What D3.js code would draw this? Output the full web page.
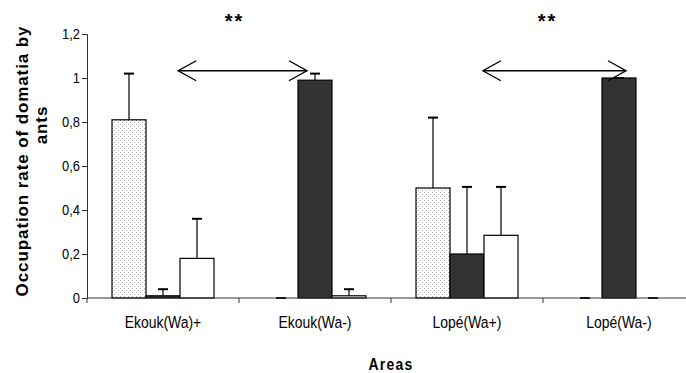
<!DOCTYPE html>
<html lang="en">
<head>
<meta charset="utf-8">
<script src="https://d3js.org/d3.v7.min.js"></script>
<style>
  body { margin: 0; background: #fff; }
  svg text { font-family: "Liberation Sans", Arial, sans-serif; fill: #000; }
</style>
</head>
<body>
<script>
  // categories and series
  const areas = ["Ekouk(Wa)+", "Ekouk(Wa-)", "Lopé(Wa+)", "Lopé(Wa-)"];
  const seriesNames = ["dotted", "dark", "white"];
  const dottedVals = [0.81, 0, 0.5, 0];
  const dottedErr = [0.21, 0, 0.32, 0];
  const darkVals = [0.01, 0.99, 0.2, 1.0];
  const darkErr = [0.03, 0.03, 0.305, 0];
  const whiteVals = [0.18, 0.01, 0.285, 0];
  const whiteErr = [0.18, 0.03, 0.22, 0];
  const yTicks = [0, 0.2, 0.4, 0.6, 0.8, 1, 1.2];
  // significance arrows, in category units along the x axis
  const arrows = [{ from: 0.6, to: 1.447, y: 1.033, star: 0.97 },
                  { from: 2.605, to: 3.546, y: 1.033, star: 3.03 }];

  const width = 686, height = 373;
  const margin = { left: 87, top: 34, bottom: 75 };
  const y0 = height - margin.bottom; // 298
  const squeeze = 0.82; // the original text is drawn condensed

  const svg = d3.select("body").append("svg")
    .attr("width", width).attr("height", height);

  const defs = svg.append("defs");
  const pat = defs.append("pattern").attr("id", "dots")
    .attr("patternUnits", "userSpaceOnUse").attr("width", 4).attr("height", 4);
  pat.append("rect").attr("width", 4).attr("height", 4).attr("fill", "#fff");
  pat.append("rect").attr("x", 0).attr("y", 0).attr("width", 1).attr("height", 1).attr("fill", "#b4b4b4");
  pat.append("rect").attr("x", 2).attr("y", 2).attr("width", 1).attr("height", 1).attr("fill", "#b4b4b4");

  const fills = { dotted: "url(#dots)", dark: "#333333", white: "#ffffff" };

  // axis runs past the right edge, one category step = 152px
  const x = d3.scaleBand().domain(areas).range([margin.left, margin.left + 4 * 152])
    .paddingInner(50 / 152).paddingOuter(25 / 152);
  const xAxisBand = d3.scaleBand().domain(areas).range([margin.left, margin.left + 4 * 152]).padding(0);
  const xs = d3.scaleBand().domain(seriesNames).range([0, x.bandwidth()]);
  const xu = d3.scaleLinear().domain([0, 4]).range([margin.left, margin.left + 4 * 152]);
  const y = d3.scaleLinear().domain([0, 1.2]).range([y0, margin.top]);

  const rows = areas.map((a, i) => ({
    area: a,
    bars: [
      { s: "dotted", v: dottedVals[i], e: dottedErr[i] },
      { s: "dark", v: darkVals[i], e: darkErr[i] },
      { s: "white", v: whiteVals[i], e: whiteErr[i] }
    ]
  }));

  // y axis
  const yAxis = svg.append("g").attr("transform", `translate(${margin.left},0)`)
    .call(d3.axisLeft(y).tickValues(yTicks).tickSize(5).tickPadding(0)
      .tickFormat(d => String(d).replace(".", ",")));
  yAxis.select(".domain").attr("stroke", "#333");
  yAxis.selectAll(".tick line").attr("stroke", "#333");
  yAxis.selectAll(".tick text")
    .attr("x", null)
    .attr("transform", "translate(-7,0) scale(0.86,1)")
    .style("font-size", "15px").attr("fill", "#000");

  // bars
  const grp = svg.selectAll("g.grp").data(rows).enter().append("g")
    .attr("class", "grp").attr("transform", d => `translate(${x(d.area)},0)`);

  grp.selectAll("rect").data(d => d.bars).enter().append("rect")
    .attr("x", d => xs(d.s))
    .attr("y", d => y(d.v))
    .attr("width", xs.bandwidth())
    .attr("height", d => y0 - y(d.v))
    .attr("fill", d => fills[d.s])
    .attr("stroke", d => d.v > 0 ? "#000" : "none")
    .attr("stroke-width", 1.2);

  // error bars
  const eb = grp.selectAll("g.eb").data(d => d.bars).enter().append("g").attr("class", "eb");
  eb.append("line")
    .attr("x1", d => xs(d.s) + xs.bandwidth() / 2).attr("x2", d => xs(d.s) + xs.bandwidth() / 2)
    .attr("y1", d => y(d.v)).attr("y2", d => y(d.v + d.e))
    .attr("stroke", "#000").attr("stroke-width", 1.2);
  eb.append("line")
    .attr("x1", d => xs(d.s) + xs.bandwidth() / 2 - 5).attr("x2", d => xs(d.s) + xs.bandwidth() / 2 + 5)
    .attr("y1", d => y(d.v + d.e)).attr("y2", d => y(d.v + d.e))
    .attr("stroke", "#000").attr("stroke-width", 2);

  // x axis
  const xg = svg.append("g");
  xg.append("line").attr("x1", xu(0)).attr("x2", xu(4)).attr("y1", y0).attr("y2", y0)
    .attr("stroke", "#333").attr("stroke-width", 1);
  xg.selectAll("line.tk").data(d3.range(5)).enter().append("line").attr("class", "tk")
    .attr("x1", d => xu(d)).attr("x2", d => xu(d)).attr("y1", y0).attr("y2", y0 + 5)
    .attr("stroke", "#333");
  xg.selectAll("text").data(areas).enter().append("text")
    .attr("transform", d => `translate(${xAxisBand(d) + xAxisBand.bandwidth() / 2},328) scale(${squeeze},1)`)
    .attr("text-anchor", "middle")
    .style("font-size", "17px")
    .text(d => d);

  svg.append("text")
    .attr("transform", `translate(${xu(2)},370) scale(${squeeze},1)`)
    .attr("text-anchor", "middle")
    .style("font-size", "17px").style("font-weight", "bold").style("letter-spacing", "1.5px")
    .text("Areas");

  // y title
  svg.append("text")
    .attr("transform", "translate(28,161) rotate(-90)")
    .attr("text-anchor", "middle")
    .style("font-size", "17px").style("font-weight", "bold").style("letter-spacing", "0.9px")
    .text("Occupation rate of domatia by");
  svg.append("text")
    .attr("transform", "translate(47,125) rotate(-90)")
    .attr("text-anchor", "middle")
    .style("font-size", "17px").style("font-weight", "bold").style("letter-spacing", "0.9px")
    .text("ants");

  // arrows and stars
  const ag = svg.selectAll("g.arrow").data(arrows).enter().append("g").attr("class", "arrow");
  ag.append("line")
    .attr("x1", d => xu(d.from)).attr("x2", d => xu(d.to))
    .attr("y1", d => y(d.y)).attr("y2", d => y(d.y))
    .attr("stroke", "#000").attr("stroke-width", 1.4);
  ag.append("path")
    .attr("d", d => `M${xu(d.from) + 18},${y(d.y) - 10}L${xu(d.from)},${y(d.y)}L${xu(d.from) + 18},${y(d.y) + 10}`)
    .attr("fill", "none").attr("stroke", "#000").attr("stroke-width", 1.4);
  ag.append("path")
    .attr("d", d => `M${xu(d.to) - 18},${y(d.y) - 10}L${xu(d.to)},${y(d.y)}L${xu(d.to) - 18},${y(d.y) + 10}`)
    .attr("fill", "none").attr("stroke", "#000").attr("stroke-width", 1.4);
  ag.append("text")
    .attr("x", d => xu(d.star)).attr("y", 28)
    .attr("text-anchor", "middle")
    .style("font-size", "20px").style("font-weight", "bold").style("letter-spacing", "2px")
    .text("**");
</script>
</body>
</html>
